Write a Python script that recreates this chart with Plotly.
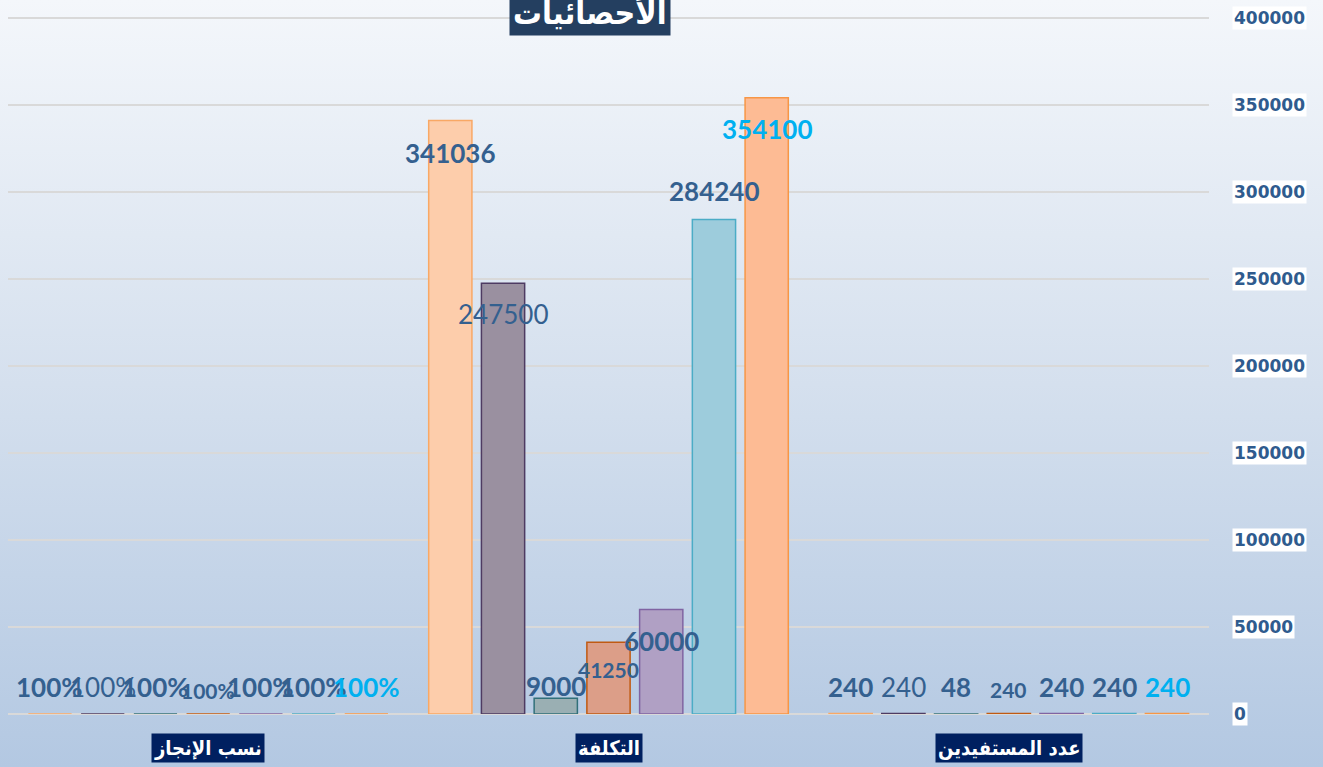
import base64
import plotly.graph_objects as go

# ---------------- data ----------------
categories = ["نسب الإنجاز", "التكلفة", "عدد المستفيدين"]
chart_title = "الأحصائيات"
series_names = ["السلسلة 1", "السلسلة 2", "السلسلة 3", "السلسلة 4",
                "السلسلة 5", "السلسلة 6", "السلسلة 7"]
# one list per series: [completion ratio, cost, beneficiaries]
series_1 = [1.0, 341036, 240]
series_2 = [1.0, 247500, 240]
series_3 = [1.0, 9000, 48]
series_4 = [1.0, 41250, 240]
series_5 = [1.0, 60000, 240]
series_6 = [1.0, 284240, 240]
series_7 = [1.0, 354100, 240]
series_values = [series_1, series_2, series_3, series_4, series_5, series_6, series_7]
y_ticks = [0, 50000, 100000, 150000, 200000, 250000, 300000, 350000, 400000]

# ---------------- styles ----------------
fill_colors = ["#FDCDAB", "#9A90A0", "#9AAFB3", "#DC9E88", "#B0A0C4", "#9DCCDC", "#FDBB94"]
line_colors = ["#F9A865", "#4E3B62", "#31707A", "#C05A12", "#8064A2", "#4BACC6", "#F79646"]
label_weights = ["bold", "normal", "bold", "bold", "bold", "bold", "bold"]
label_sizes = [26, 26, 26, 21, 26, 26, 26]
label_colors = ["#34608F"] * 6 + ["#00B0F0"]
# vertical pixel shift of each label relative to bar top (per series, per category)
label_shift = [
    [27, -32, 27], [27, -31, 27], [27, 12, 27], [24, -27, 24],
    [27, -31, 27], [27, 28, 27], [27, -31, 27],
]
BARGAP = 0.078
BARGROUPGAP = 0.18
ARABIC_FONT = "DejaVu Sans Condensed, DejaVu Sans"

W, H = 1323, 767
ML, MR, MT, MB = 8, 114, 16, 53
PW, PH = W - ML - MR, H - MT - MB
Y_TOP = 400000 * PH / 696.0  # 400000 gridline sits 2px below the plot top

fig = go.Figure()
xs = list(range(len(categories)))
for i, vals in enumerate(series_values):
    fig.add_trace(go.Bar(
        x=xs, y=vals, name=series_names[i],
        marker=dict(color=fill_colors[i], line=dict(color=line_colors[i], width=1.5)),
        showlegend=False, hoverinfo="y",
    ))

# data labels
n = len(series_values)
slot = (1 - BARGAP) / n
annotations = []
for i, vals in enumerate(series_values):
    for c, v in enumerate(vals):
        txt = f"{v*100:.0f}%" if c == 0 else f"{v}"
        annotations.append(dict(
            x=c + (i - (n - 1) / 2) * slot, y=v, xref="x", yref="y",
            text=txt, showarrow=False, xanchor="center", yanchor="middle",
            yshift=label_shift[i][c],
            font=dict(family="Lato", size=label_sizes[i], color=label_colors[i],
                      weight=label_weights[i]),
        ))

# y tick labels with white boxes (right side)
for t in y_ticks:
    annotations.append(dict(
        x=(1232 - ML) / PW, y=t, xref="paper", yref="y", text=str(t),
        showarrow=False, xanchor="left", yanchor="middle",
        bgcolor="white", borderpad=1,
        font=dict(family="DejaVu Sans", size=17, color="#2F5B8E", weight="bold"),
    ))

# category labels in dark boxes
for c, name in enumerate(categories):
    annotations.append(dict(
        x=c, y=1 - (748 - MT) / PH, xref="x", yref="paper", text=name,
        showarrow=False, xanchor="center", yanchor="middle",
        bgcolor="#002060", borderpad=2,
        font=dict(family=ARABIC_FONT, size=20, color="white", weight="bold"),
    ))

# title box (partially cut at top)
annotations.append(dict(
    x=(590 - ML) / PW, y=1 - (36 - MT) / PH, xref="paper", yref="paper",
    text=chart_title, showarrow=False, xanchor="center", yanchor="bottom",
    bgcolor="#243F60", borderpad=3,
    font=dict(family=ARABIC_FONT, size=32, color="white", weight="bold"),
))

# gradient background
svg = ('<svg xmlns="http://www.w3.org/2000/svg" width="100" height="100" preserveAspectRatio="none">'
       '<defs><linearGradient id="g" x1="0" y1="0" x2="0" y2="1">'
       '<stop offset="0" stop-color="#F4F7FB"/>'
       '<stop offset="0.5" stop-color="#D5E0EE"/>'
       '<stop offset="1" stop-color="#B3C8E2"/>'
       '</linearGradient></defs><rect width="100" height="100" fill="url(#g)"/></svg>')
src = "data:image/svg+xml;base64," + base64.b64encode(svg.encode()).decode()

fig.update_layout(
    width=W, height=H, autosize=False,
    margin=dict(l=ML, r=MR, t=MT, b=MB, pad=0),
    paper_bgcolor="#D5E0EE", plot_bgcolor="rgba(0,0,0,0)",
    barmode="group", bargap=BARGAP, bargroupgap=BARGROUPGAP,
    annotations=annotations,
    images=[dict(source=src, xref="paper", yref="paper",
                 x=-ML / PW, y=1 + MT / PH, sizex=W / PW, sizey=H / PH,
                 xanchor="left", yanchor="top", sizing="stretch", layer="below")],
    xaxis=dict(range=[-0.5, 2.5], showgrid=False, zeroline=False,
               showticklabels=False, ticks="", fixedrange=True),
    yaxis=dict(range=[0, Y_TOP], side="right", tickvals=y_ticks, showticklabels=False,
               gridcolor="#D9D9D9", gridwidth=2, zeroline=True, zerolinecolor="#D9D9D9",
               zerolinewidth=2, fixedrange=True),
    font=dict(family="DejaVu Sans"),
)

fig.write_html(
    "out.html",
    config={"displayModeBar": False},
    post_script="document.body.style.margin='0';document.body.style.padding='0';",
)
